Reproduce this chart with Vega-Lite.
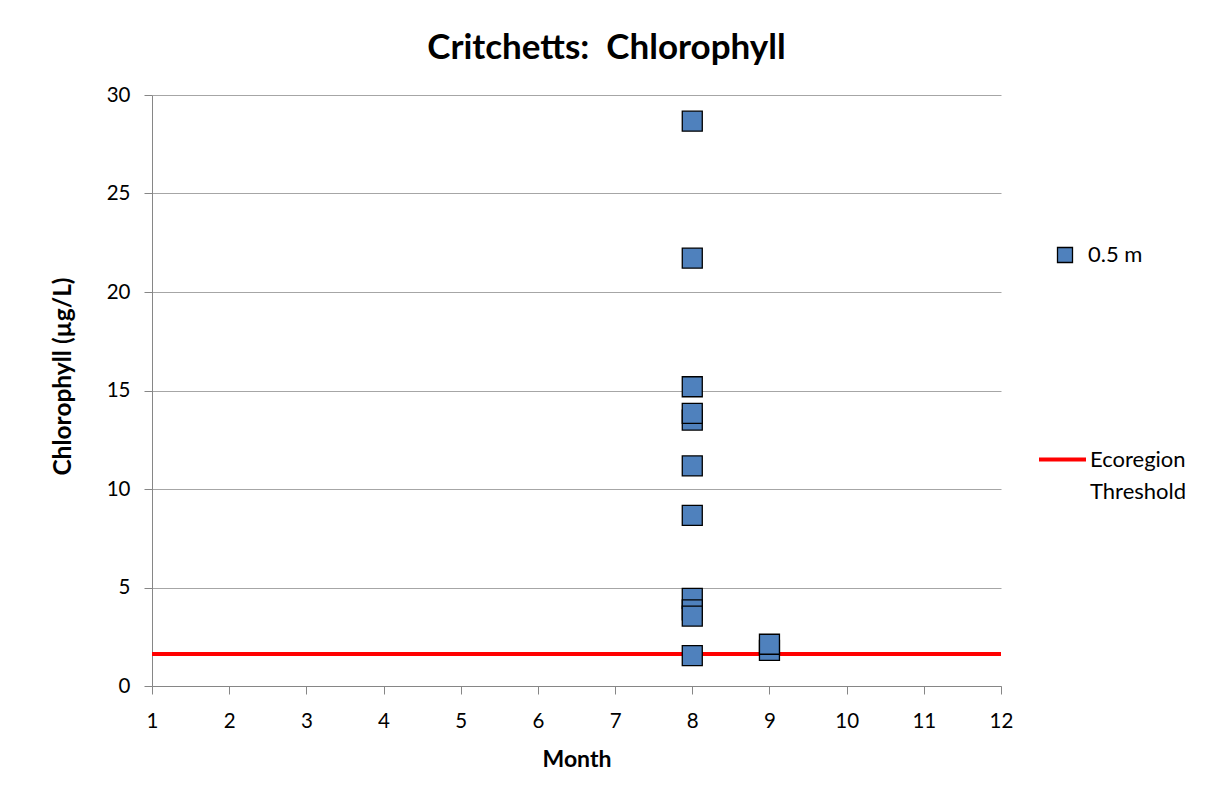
{
  "$schema": "https://vega.github.io/schema/vega-lite/v6.json",
  "autosize": {"type": "none"},
  "width": 849,
  "height": 591,
  "padding": {"left": 152, "top": 95, "right": 206, "bottom": 111},
  "background": "white",
  "title": {
    "text": "Critchetts:\u00a0 Chlorophyll",
    "font": "Lato",
    "fontSize": 35,
    "fontWeight": "bold",
    "color": "black",
    "anchor": "middle",
    "dx": 30,
    "offset": 19
  },
  "config": {
    "view": {"stroke": null},
    "font": "Lato",
    "style": {"guide-label": {"lineHeight": 32}},
    "axis": {
      "labelFont": "Lato",
      "labelFontSize": 20.5,
      "labelColor": "black",
      "titleFont": "Lato",
      "titleFontSize": 23,
      "titleFontWeight": "bold",
      "titleColor": "black",
      "domainColor": "#868686",
      "tickColor": "#868686",
      "tickSize": 8,
      "gridColor": "#a6a6a6",
      "gridWidth": 1
    },
    "legend": {"labelFont": "Lato", "labelFontSize": 22, "labelColor": "black"}
  },
  "datasets": {
    "points": [
      {"month": 8, "chl": 28.67, "series": "0.5 m"},
      {"month": 8, "chl": 21.72, "series": "0.5 m"},
      {"month": 8, "chl": 15.19, "series": "0.5 m"},
      {"month": 8, "chl": 13.5, "series": "0.5 m"},
      {"month": 8, "chl": 13.84, "series": "0.5 m"},
      {"month": 8, "chl": 11.17, "series": "0.5 m"},
      {"month": 8, "chl": 8.66, "series": "0.5 m"},
      {"month": 8, "chl": 4.45, "series": "0.5 m"},
      {"month": 8, "chl": 3.86, "series": "0.5 m"},
      {"month": 8, "chl": 3.55, "series": "0.5 m"},
      {"month": 8, "chl": 1.54, "series": "0.5 m"},
      {"month": 9, "chl": 1.81, "series": "0.5 m"},
      {"month": 9, "chl": 2.12, "series": "0.5 m"}
    ],
    "threshold": [
      {"month": 1, "chl": 1.62, "series": "Ecoregion Threshold"},
      {"month": 12, "chl": 1.62, "series": "Ecoregion Threshold"}
    ]
  },
  "layer": [
    {
      "data": {"name": "threshold"},
      "mark": {"type": "line", "strokeWidth": 4},
      "encoding": {
        "x": {"field": "month", "type": "quantitative"},
        "y": {"field": "chl", "type": "quantitative"},
        "stroke": {
          "field": "series",
          "type": "nominal",
          "scale": {"range": ["#ff0000"]},
          "legend": {
            "title": null,
            "orient": "none",
            "legendX": 885,
            "legendY": 329,
            "symbolType": "M-1,0.43L1,0.43",
            "symbolSize": 2209,
            "symbolStrokeWidth": 4,
            "labelOffset": 2,
            "labelExpr": "split(datum.label, ' ')",
            "labelBaseline": "top"
          }
        }
      }
    },
    {
      "data": {"name": "points"},
      "mark": {"type": "point", "shape": "square", "filled": true, "size": 400, "stroke": "black", "strokeWidth": 1.3, "opacity": 1},
      "encoding": {
        "x": {
          "field": "month",
          "type": "quantitative",
          "scale": {"domain": [1, 12], "nice": false, "zero": false},
          "axis": {
            "title": "Month",
            "format": "d",
            "values": [1, 2, 3, 4, 5, 6, 7, 8, 9, 10, 11, 12],
            "grid": false,
            "labelFlush": false,
            "labelPadding": 17,
            "titlePadding": 17
          }
        },
        "y": {
          "field": "chl",
          "type": "quantitative",
          "scale": {"domain": [0, 30], "nice": false},
          "axis": {
            "title": "Chlorophyll (µg/L)",
            "values": [0, 5, 10, 15, 20, 25, 30],
            "labelPadding": 14,
            "titleFontSize": 24.5,
            "titleY": 281,
            "titlePadding": 31
          }
        },
        "fill": {
          "field": "series",
          "type": "nominal",
          "scale": {"range": ["#4f81bd"]},
          "legend": {
            "title": null,
            "orient": "none",
            "legendX": 902,
            "legendY": 149,
            "symbolType": "square",
            "symbolSize": 225,
            "symbolStrokeColor": "black",
            "symbolStrokeWidth": 1.3,
            "labelOffset": 12
          }
        }
      }
    }
  ]
}
